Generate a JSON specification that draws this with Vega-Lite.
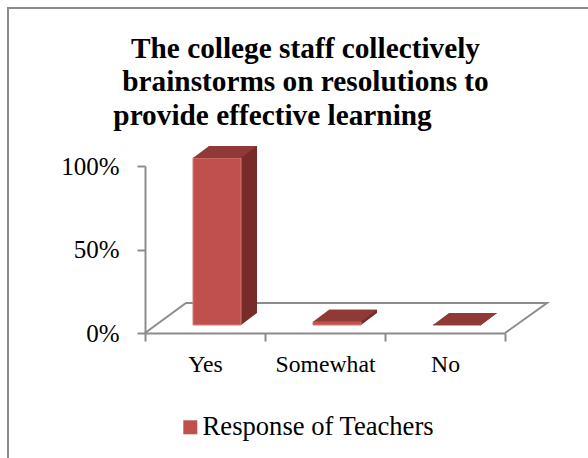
{
"$schema":"https://vega.github.io/schema/vega-lite/v6.json",
"width":600,"height":470,
"autosize":{"type":"none"},
"padding":{"left":8,"top":8,"right":0,"bottom":0},
"background":"white",
"view":{"stroke":"#8c8c8c","strokeWidth":2,"fill":"white"},
"title":{"text":["The college staff collectively","brainstorms on resolutions to","provide effective learning\u00a0\u00a0\u00a0\u00a0\u00a0\u00a0\u00a0\u00a0\u00a0\u200b"],"font":"Liberation Serif","fontSize":29.3,"fontWeight":"bold","color":"black","anchor":"middle","frame":"group","offset":-123,"lineHeight":33.5,"dx":-2.5},
"data":{"values":[{"category":"Yes","share":1,"series":"Response of Teachers"},{"category":"Somewhat","share":0.02,"series":"Response of Teachers"},{"category":"No","share":0,"series":"Response of Teachers"}]},
"encoding":{
"x":{"field":"category","type":"nominal","sort":["Yes","Somewhat","No"],"title":null,"scale":{"range":[137,497],"paddingInner":0,"paddingOuter":0},
"axis":{"offset":-145,"bandPosition":0,"tickBand":"extent","labelAngle":0,"labelFont":"Liberation Serif","labelFontSize":23.7,"labelColor":"black","labelPadding":11,"domainColor":"#8c8c8c","domainWidth":2,"tickColor":"#8c8c8c","tickWidth":2,"tickSize":8}},
"y":{"field":"share","type":"quantitative","title":null,"scale":{"domain":[0,1],"range":[325,158]},
"axis":{"offset":-137,"values":[0,0.5,1],"format":".0%","grid":false,"labelFont":"Liberation Serif","labelFontSize":25,"labelColor":"black","labelPadding":18,"domainColor":"#8c8c8c","domainWidth":2,"tickColor":"#8c8c8c","tickWidth":2,"tickSize":8}}
},
"layer":[
{"transform":[{"filter":"datum.category==='Somewhat'"}],
 "mark":{"type":"point","shape":"M-18,0L-13.9,-3L22.2,-3L18,0","size":400,"filled":false,"stroke":"#8c8c8c","strokeWidth":2,"opacity":1},
 "encoding":{"y":{"datum":0,"type":"quantitative"}}},
{"mark":{"type":"bar","width":48,"color":"#772C2A","xOffset":28,"yOffset":-20,"y2Offset":-20},"encoding":{"y2":{"datum":0}}},
{"mark":{"type":"point","shape":"M1,0L1.667,-0.5L1,-0.5Z","size":2304,"filled":true,"fill":"#772C2A","opacity":1,"xOffset":12,"yOffset":-8},"encoding":{"y":{"datum":0,"type":"quantitative"}}},
{"mark":{"type":"bar","width":48,"xOffset":12,"yOffset":-8,"y2Offset":-8,"stroke":"#D47A77","strokeWidth":1},
 "encoding":{"y2":{"datum":0},"color":{"field":"series","type":"nominal","scale":{"range":["#C0504D"]},"legend":{"title":null,"orient":"none","legendX":169,"legendY":406,"symbolType":"square","symbolSize":196,"labelFont":"Liberation Serif","labelFontSize":26.6,"labelColor":"black","labelLimit":400,"labelOffset":-1,"symbolStrokeWidth":0}}}},
{"mark":{"type":"point","shape":"M-1,0L1,0L1.667,-0.5L-0.333,-0.5Z","size":2304,"filled":true,"fill":"#8F3A37","opacity":1,"xOffset":12,"yOffset":-8}}
]
}
